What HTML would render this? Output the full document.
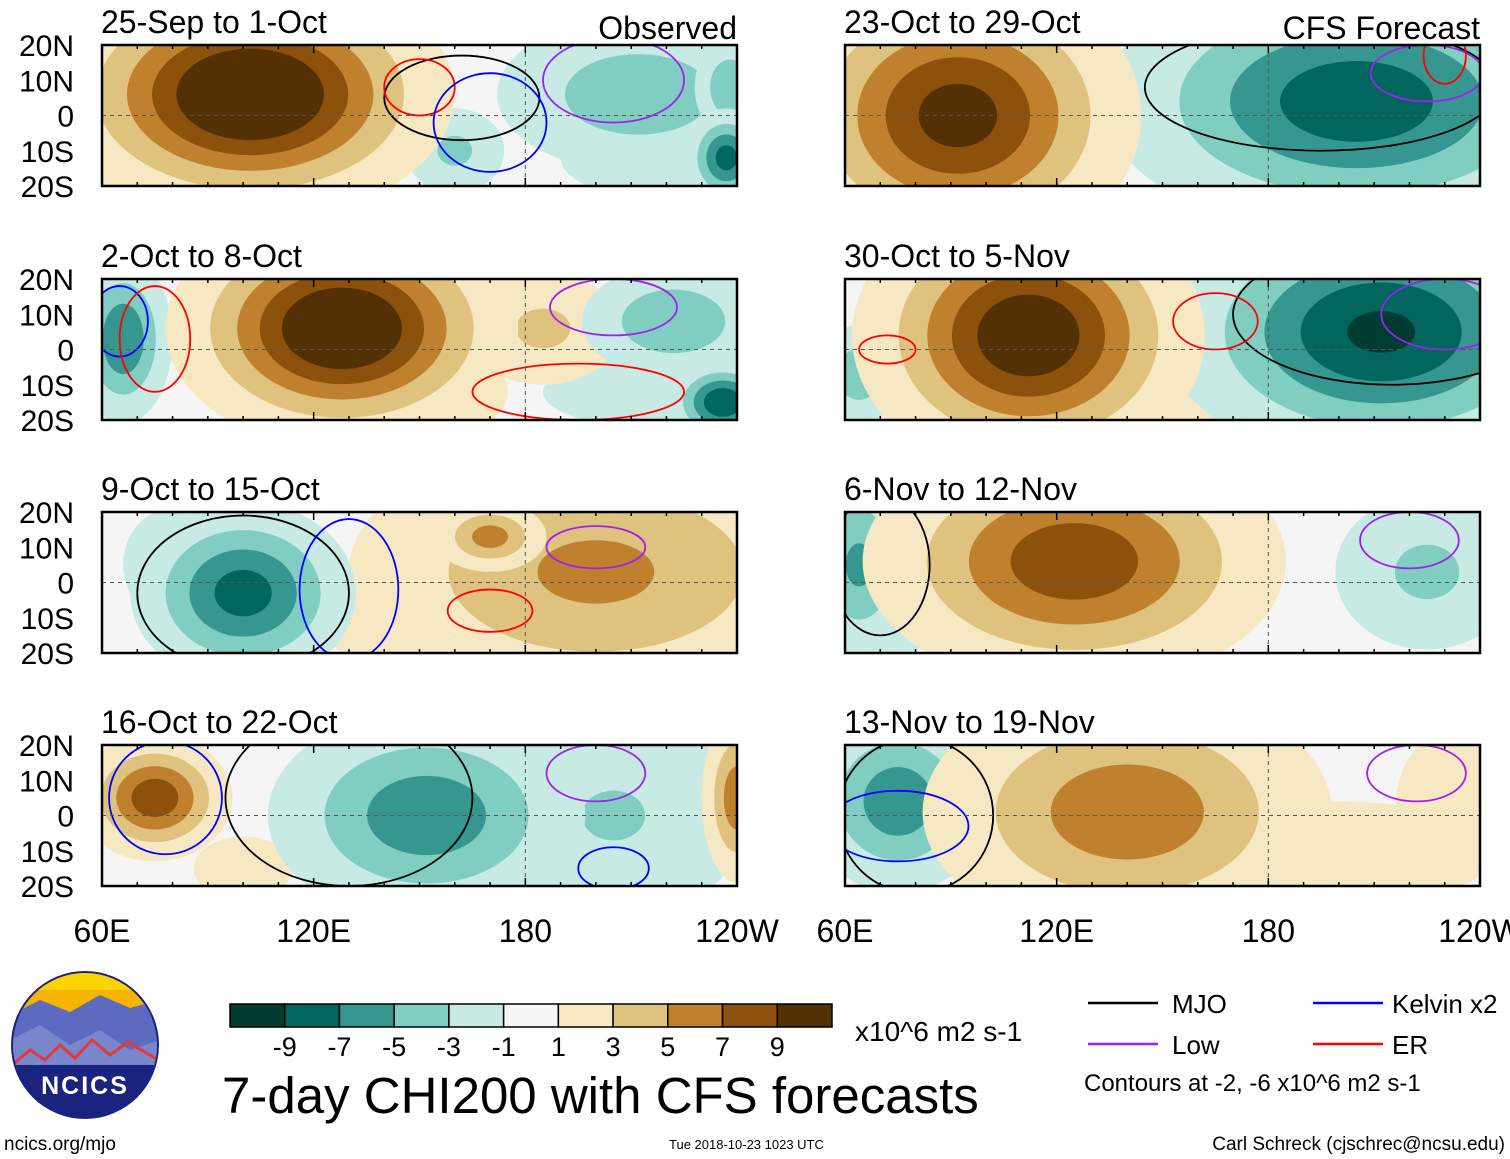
<!DOCTYPE html>
<html><head><meta charset="utf-8">
<style>
body{margin:0;background:#fff;}
svg{display:block;font-family:"Liberation Sans",sans-serif;}
</style></head>
<body>
<svg id="chart" width="1510" height="1159" viewBox="0 0 1510 1159">
<g id="panels"></g>
<g id="legend">
  <g id="colorbar"></g>
  <text x="855" y="1041" font-size="28">x10^6 m2 s-1</text>
  <text x="222" y="1113" font-size="51">7-day CHI200 with CFS forecasts</text>
  <line x1="1088" y1="1003" x2="1158" y2="1003" stroke="#000" stroke-width="2.5"/>
  <text x="1172" y="1013" font-size="26">MJO</text>
  <line x1="1313" y1="1003" x2="1383" y2="1003" stroke="#0000ff" stroke-width="2.5"/>
  <text x="1392" y="1013" font-size="26">Kelvin x2</text>
  <line x1="1088" y1="1044" x2="1158" y2="1044" stroke="#a020f0" stroke-width="2.5"/>
  <text x="1172" y="1054" font-size="26">Low</text>
  <line x1="1313" y1="1044" x2="1383" y2="1044" stroke="#ff0000" stroke-width="2.5"/>
  <text x="1392" y="1054" font-size="26">ER</text>
  <text x="1084" y="1091" font-size="24">Contours at -2, -6 x10^6 m2 s-1</text>
</g>
<g>
  <circle cx="85" cy="1045" r="74" fill="#1a237e"/>
  <clipPath id="logoclip"><circle cx="85" cy="1045" r="72"/></clipPath>
  <g clip-path="url(#logoclip)">
    <rect x="10" y="970" width="150" height="45" fill="#f6b400"/>
    <rect x="10" y="970" width="150" height="20" fill="#fbd400"/>
    <path d="M10 1015 L40 1000 L70 1012 L100 995 L130 1008 L160 1000 L160 1070 L10 1070Z" fill="#5c6bc0"/>
    <path d="M10 1040 L40 1025 L70 1045 L100 1030 L130 1050 L160 1040 L160 1070 L10 1070Z" fill="#7986cb"/>
    <path d="M12 1065 L30 1050 L45 1060 L60 1045 L75 1058 L92 1040 L110 1055 L128 1042 L158 1060" stroke="#e53935" stroke-width="3" fill="none"/>
    <rect x="10" y="1065" width="150" height="60" fill="#1a237e"/>
  </g>
  <text x="85" y="1094" font-size="25" font-weight="bold" fill="#fff" text-anchor="middle" letter-spacing="2">NCICS</text>
</g>
<text x="4" y="1150" font-size="19">ncics.org/mjo</text>
<text x="669" y="1149" font-size="13">Tue 2018-10-23 1023 UTC</text>
<text x="1505" y="1150" font-size="19" text-anchor="end">Carl Schreck (cjschrec@ncsu.edu)</text>
</svg>
<script>
// ---- data ----
const levelBounds = [-9,-7,-5,-3,-1,1,3,5,7,9];
const levelColors = ["#003c30","#01665e","#35978f","#80cdc1","#c7eae5","#f5f5f5","#f6e8c3","#dfc27d","#bf812d","#8c510a","#543005"];
const tickLabels = ["-9","-7","-5","-3","-1","1","3","5","7","9"];
const latLabels = ["20N","10N","0","10S","20S"];
const latValues = [20,10,0,-10,-20];
const lonLabels = ["60E","120E","180","120W"];
const lonValues = [60,120,180,240];
const panelTitles = ["25-Sep to 1-Oct","2-Oct to 8-Oct","9-Oct to 15-Oct","16-Oct to 22-Oct","23-Oct to 29-Oct","30-Oct to 5-Nov","6-Nov to 12-Nov","13-Nov to 19-Nov"];
// blobs: [lon, lat, lonRadius, latRadius, peak]
const panelBlobs = [
 [[102,6,58,36,12.5],[68,-10,16,16,4],[160,-10,14,12,-3.5],[212,6,40,22,-4.5],[237,-12,12,14,-8],[238,8,10,14,-5],[220,-12,30,12,-2]],
 [[128,6,50,34,12],[150,-12,25,14,5],[185,6,22,16,3.5],[66,3,14,24,-7],[222,8,26,16,-5],[236,-15,16,12,-9],[215,-12,30,10,-2.5]],
 [[100,-3,32,26,-8],[80,5,14,16,-3],[200,3,70,38,5.5],[170,13,16,10,6],[157,3,12,8,5],[145,-8,25,16,3]],
 [[75,5,22,18,8.5],[152,0,45,30,-6.5],[205,0,38,30,-3.2],[240,5,10,24,6.5],[100,-15,14,9,2.5]],
 [[92,0,52,42,10],[205,4,72,38,-8.5],[238,-15,12,12,-3]],
 [[112,4,50,40,11],[212,5,62,38,-9.5],[64,-7,12,14,-4.5],[160,-15,40,12,3]],
 [[125,6,60,36,8.5],[64,5,16,26,-5.5],[225,3,26,22,-3.5],[70,-15,12,9,-2.5]],
 [[75,4,26,26,-6.5],[140,1,58,36,6.5],[200,-10,45,14,2],[232,2,16,22,2.5]]
];
// contours: [lon, lat, lonRadius, latRadius, type]
const panelContours = [
 [[162,5,22,12,"mjo"],[205,10,20,12,"low"],[150,8,10,8,"er"],[170,-2,16,14,"kelvin"]],
 [[65,8,8,10,"kelvin"],[75,3,10,15,"er"],[205,12,18,8,"low"],[195,-12,30,8,"er"]],
 [[100,-3,30,22,"mjo"],[130,-2,14,20,"kelvin"],[200,10,14,6,"low"],[170,-8,12,6,"er"]],
 [[78,5,16,16,"kelvin"],[130,5,35,25,"mjo"],[200,12,14,8,"low"],[205,-15,10,6,"kelvin"]],
 [[195,8,50,18,"mjo"],[225,12,16,8,"low"],[230,17,6,8,"er"]],
 [[215,10,45,20,"mjo"],[165,8,12,8,"er"],[230,10,18,10,"low"],[72,0,8,4,"er"]],
 [[70,5,14,20,"mjo"],[220,12,14,8,"low"]],
 [[80,0,22,22,"mjo"],[222,12,14,8,"low"],[75,-3,20,10,"kelvin"]]
];
const contourColors = {mjo:"#000",low:"#a020f0",kelvin:"#0000ff",er:"#ff0000"};
// ---- layout ----
const NS="http://www.w3.org/2000/svg";
const colX=[102,845], rowY=[45,279,512,745], PW=635, PH=141;
function mk(tag,attrs,parent){const e=document.createElementNS(NS,tag);for(const k in attrs)e.setAttribute(k,attrs[k]);parent.appendChild(e);return e;}
const panelsG=document.getElementById('panels');
function colorFor(th){
  const i=levelBounds.indexOf(th); return th>0?levelColors[i+1]:levelColors[i];
}
for(let p=0;p<8;p++){
  const x0=colX[Math.floor(p/4)], y0=rowY[p%4];
  const xs=lon=>x0+(lon-60)/180*PW, ys=lat=>y0+(20-lat)/40*PH;
  const g=mk('g',{},panelsG);
  
  
  const cp=mk('clipPath',{id:'cp'+p},g); mk('rect',{x:x0,y:y0,width:PW,height:PH},cp);
  const inner=mk('g',{'clip-path':'url(#cp'+p+')'},g);
  mk('rect',{x:x0,y:y0,width:PW,height:PH,fill:levelColors[5]},inner);
  const blobs=panelBlobs[p].slice().sort((a,b)=>Math.abs(a[4])-Math.abs(b[4]));
  for(const b of blobs){
    const pk=Math.abs(b[4]), sgn=Math.sign(b[4]);
    for(const t of [1,3,5,7,9]){
      if(pk<=t) break;
      const f=Math.sqrt(Math.log(pk/t)/Math.log(pk));
      const e=mk('ellipse',{cx:xs(b[0]),cy:ys(b[1]),rx:b[2]/180*PW*f,ry:b[3]/40*PH*f,fill:colorFor(sgn*t)},inner);
      
      
    }
  }
  for(const c of panelContours[p]){
    const e=mk('ellipse',{cx:xs(c[0]),cy:ys(c[1]),rx:c[2]/180*PW,ry:c[3]/40*PH,fill:'none',stroke:contourColors[c[4]],'stroke-width':1.8},inner);
    
    
  }
  mk('line',{x1:x0,x2:x0+PW,y1:ys(0),y2:ys(0),stroke:'#555','stroke-dasharray':'4,4','stroke-width':1},inner);
  mk('line',{x1:xs(180),x2:xs(180),y1:y0,y2:y0+PH,stroke:'#555','stroke-dasharray':'4,4','stroke-width':1},inner);
  mk('rect',{x:x0,y:y0,width:PW,height:PH,fill:'none',stroke:'#000','stroke-width':2.5},g);
  for(let lon=60;lon<=240;lon+=10){
    const L=(lon%60==0)?8:4;
    mk('line',{x1:xs(lon),x2:xs(lon),y1:y0+PH,y2:y0+PH-L,stroke:'#000','stroke-width':1.5},g);
    mk('line',{x1:xs(lon),x2:xs(lon),y1:y0,y2:y0+L,stroke:'#000','stroke-width':1.5},g);
  }
  const t=mk('text',{x:x0-1,y:y0-12,'font-size':32},g); t.textContent=panelTitles[p];
  
  
  if(p==0||p==4){
    const s=mk('text',{x:x0+PW,y:y0-6,'font-size':32,'text-anchor':'end'},g);
    s.textContent=p==0?"Observed":"CFS Forecast";
    
    
  }
  if(p<4){
    latValues.forEach((v,i)=>{
      const l=mk('text',{x:74,y:ys(v)+11,'font-size':30,'text-anchor':'end'},g);
      l.textContent=latLabels[i];
      
      
    });
  }
  if(p%4==3){
    lonValues.forEach((v,i)=>{
      const l=mk('text',{x:xs(v),y:942,'font-size':32,'text-anchor':'middle'},g);
      l.textContent=lonLabels[i];
      
      
    });
  }
}
// colorbar
const cb=document.getElementById('colorbar');
const cbx=230, cbw=602/levelColors.length;
levelColors.forEach((c,i)=>{
  const r=mk('rect',{x:cbx+i*cbw,y:1004,width:cbw,height:23,fill:c,stroke:'#000','stroke-width':1.5},cb);
  
  
});
tickLabels.forEach((s,i)=>{
  const t=mk('text',{x:cbx+(i+1)*cbw,y:1056,'font-size':27,'text-anchor':'middle'},cb);
  t.textContent=s;
  
  
});
</script>
</body></html>
